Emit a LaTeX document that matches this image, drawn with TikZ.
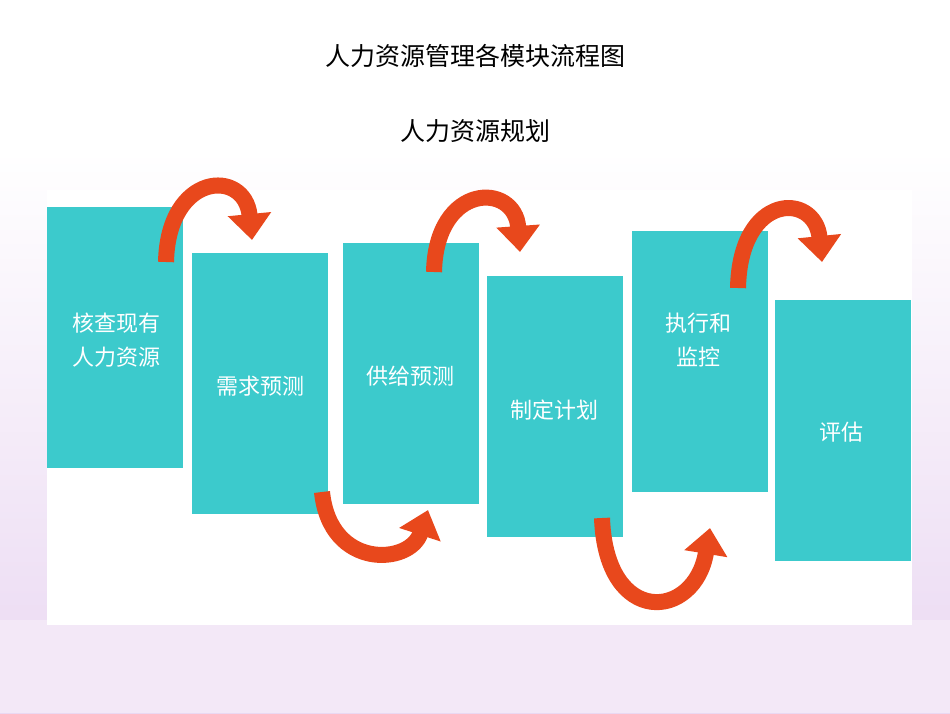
\documentclass[tikz,border=0pt]{standalone}
\usepackage{fontspec}
\setmainfont{Noto Sans CJK SC}
\newfontfamily\cjk{Noto Sans CJK SC}
\usetikzlibrary{arrows.meta}
\definecolor{teal1}{HTML}{3CCACC}
\definecolor{arr}{HTML}{E8481C}
\definecolor{lav}{HTML}{EAD8F2}
\tikzset{
  box/.style={fill=teal1,draw=none,minimum width=136pt,minimum height=261pt,anchor=north west},
  lbl/.style={text=white,font=\cjk\fontsize{22}{34}\selectfont,align=center},
  flow/.style={draw=arr,line width=16pt,-{Triangle[width=42pt,length=26pt]}},
  ttl/.style={font=\cjk\fontsize{25}{30}\selectfont}
}
\begin{document}
\begin{tikzpicture}[x=1pt,y=-1pt]
\useasboundingbox (0,0) rectangle (950,713);
\fill[white] (0,0) rectangle (950,713);
\shade[top color=white,bottom color=lav] (0,150) rectangle (950,713);
\fill[lav!60] (0,620) rectangle (950,713);
\fill[white] (47,190) rectangle (912,625);
\node[ttl] (t1) at (475,56) {人力资源管理各模块流程图};
\node[ttl] (t2) at (475,131) {人力资源规划};
\node[box] (b1) at (47,207) {};
\node[lbl] (l1) at (116,340) {核查现有\\人力资源};
\node[box] (b2) at (192,253) {};
\node[lbl] (l2) at (260,386) {需求预测};
\node[box] (b3) at (343,243) {};
\node[lbl] (l3) at (410,376) {供给预测};
\node[box] (b4) at (487,276) {};
\node[lbl] (l4) at (554,410) {制定计划};
\node[box] (b5) at (632,231) {};
\node[lbl] (l5) at (698,340) {执行和\\监控};
\node[box] (b6) at (775,300) {};
\node[lbl] (l6) at (841,432) {评估};
% arrows
\draw[flow] (166,262) .. controls (168,172) and (245,168) .. (252,240);
\draw[flow] (322,492) .. controls (330,570) and (410,565) .. (428,510);
\draw[flow] (434,272) .. controls (436,182) and (515,182) .. (520,252);
\draw[flow] (602,518) .. controls (606,628) and (695,620) .. (710,528);
\draw[flow] (738,288) .. controls (740,192) and (815,192) .. (822,262);
\end{tikzpicture}
\end{document}
